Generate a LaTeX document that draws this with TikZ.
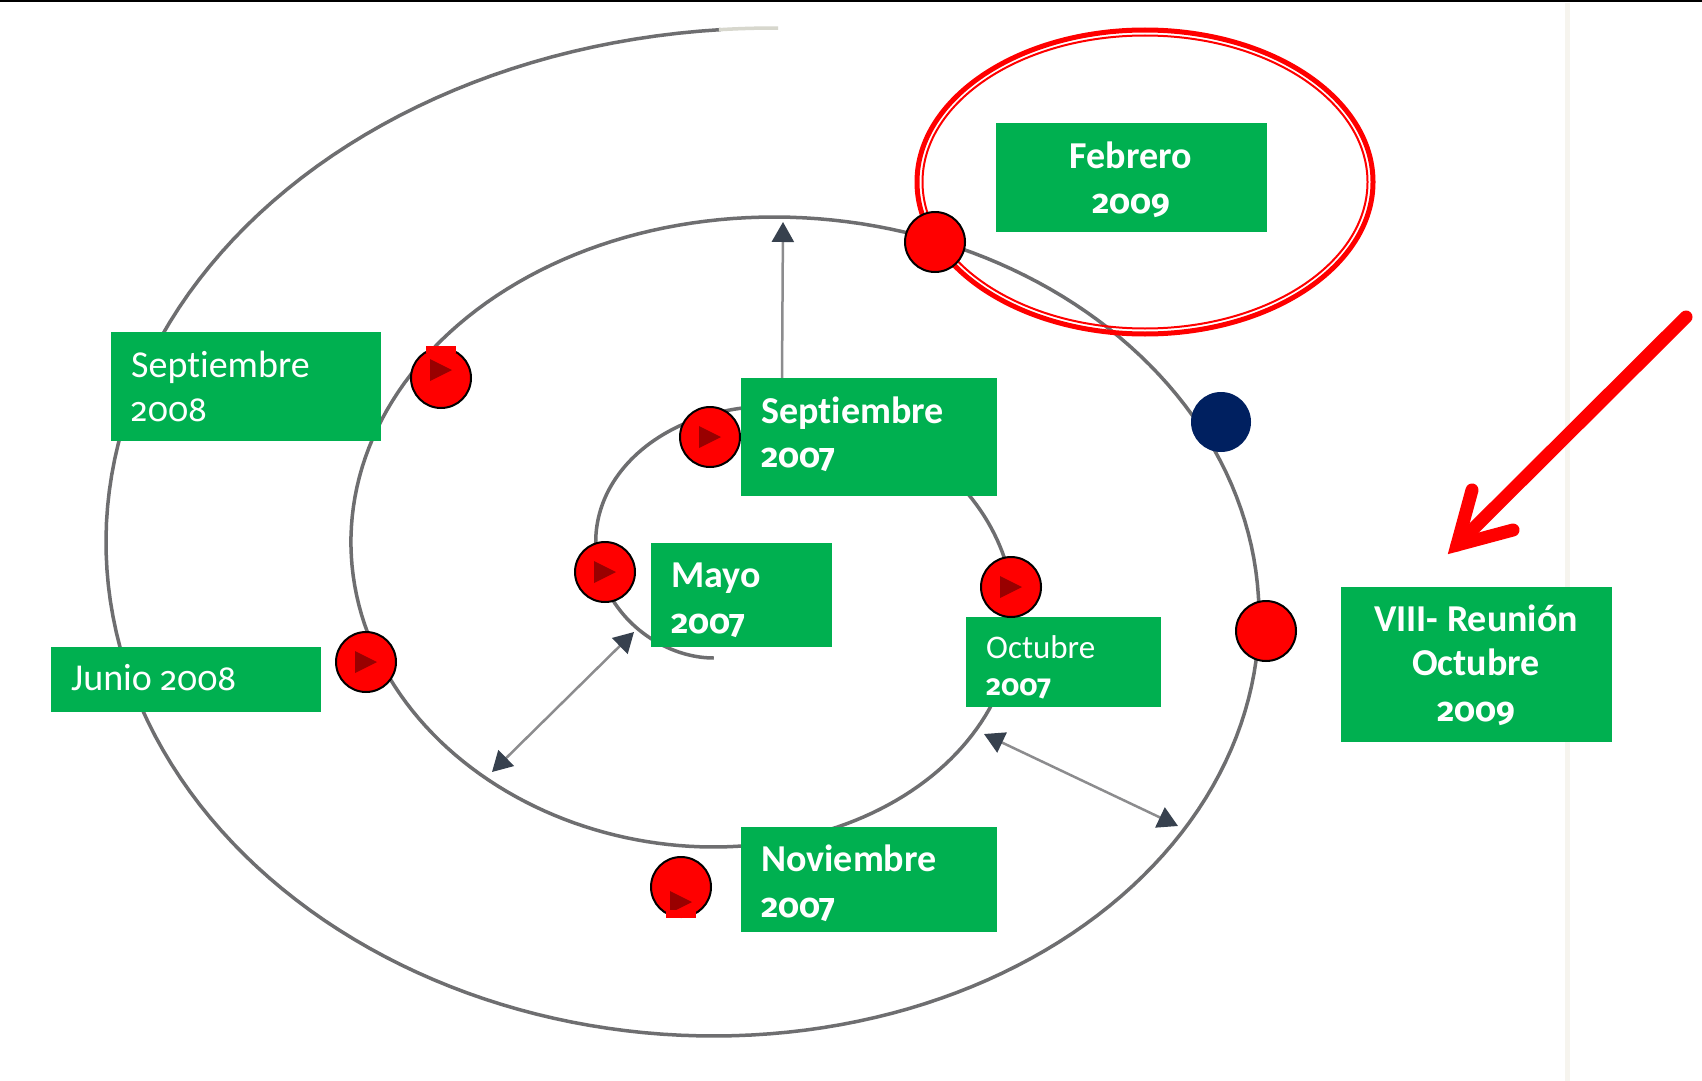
\documentclass[tikz,border=0pt]{standalone}
\usepackage{fontspec}
\setmainfont{Carlito}[Ligatures=CommonOff]
\newfontfamily\oldnum{Fira Sans}[Numbers=OldStyle, Scale=0.88]
\newcommand\od[1]{{\oldnum #1}}
\usetikzlibrary{arrows.meta}
\definecolor{boxgreen}{RGB}{0,176,80}
\definecolor{spiralgray}{RGB}{110,110,112}
\definecolor{spiralfade}{RGB}{215,215,205}
\definecolor{conngray}{RGB}{140,140,142}
\definecolor{arrowdark}{RGB}{55,65,78}
\definecolor{playred}{RGB}{153,0,0}
\definecolor{navydot}{RGB}{0,32,96}
\definecolor{paleedge}{RGB}{246,244,238}
\newcommand\PlayTri[2]{\fill[playred] (#1-11,#2-11) -- (#1-11,#2+11) -- (#1+11,#2) -- cycle;}
\tikzset{
  gbox/.style={fill=boxgreen, draw=none, anchor=north west, inner sep=0pt, outer sep=0pt},
  lblR/.style={text=white, inner sep=0pt, font=\fontsize{38}{45}\selectfont},
  lblB/.style={text=white, inner sep=0pt, font=\fontsize{38}{45}\selectfont\bfseries},
  lblS/.style={text=white, inner sep=0pt, font=\fontsize{33}{38}\selectfont},
  lblSB/.style={text=white, inner sep=0pt, font=\fontsize{33}{38}\selectfont\bfseries},
  rdot/.style={circle, fill=red, draw=black, line width=2pt, minimum size=60pt, inner sep=0pt},
  ndot/.style={circle, fill=navydot, draw=none, minimum size=60pt, inner sep=0pt},
  spiralline/.style={draw=spiralgray, line width=3.5pt},
  conn/.style={draw=conngray, line width=2.5pt},
  dtip/.tip={Triangle[width=22pt,length=20pt,color=arrowdark]},
  redarrow/.style={draw=red, line width=13pt, line cap=round},
}
\begin{document}
\begin{tikzpicture}[x=1pt,y=-1pt,
  declare function={
    spx(\t)=743.75+(147.75+38.99*(\t-pi))*cos(\t r)-30*sin(\t r);
    spy(\t)=579.25+(173.25+30.08*(\t-3*pi/2))*sin(\t r)+30*cos(\t r);}]
\useasboundingbox (0,0) rectangle (1702,1081);
\fill[white] (0,0) rectangle (1702,1081);
% page edges
\draw[line width=5pt, paleedge] (1567,3) -- (1567,1081);
\draw[line width=2pt, black] (0,1) -- (1702,1);
% spiral
\draw[spiralline] plot[variable=\t, domain=pi/2:17.21, samples=500] ({spx(\t)},{spy(\t)});
\draw[spiralline, draw=spiralfade] plot[variable=\t, domain=17.20:17.285, samples=10] ({spx(\t)},{spy(\t)});
% red double ellipse
\draw[red, line width=5pt] (1145,182) ellipse [x radius=228, y radius=152];
\draw[red, line width=2pt] (1145,182) ellipse [x radius=222.5, y radius=146.5];
% connector end points
\coordinate (vbase) at (782,378);
\coordinate (vtip) at (783,222);
\coordinate (m1) at (634,632);
\coordinate (m2) at (492,772);
\coordinate (o1) at (984,734);
\coordinate (o2) at (1178,826);
% connectors
\draw[conn, -dtip] (vbase) -- (vtip);
\draw[conn, dtip-dtip] (m2) -- (m1);
\draw[conn, dtip-dtip] (o1) -- (o2);
% green boxes
\node[gbox, minimum width=271pt, minimum height=109pt] (bfeb) at (996,123) {};
\node[gbox, minimum width=270pt, minimum height=109pt] (bsep08) at (111,332) {};
\node[gbox, minimum width=256pt, minimum height=118pt] (bsep07) at (741,378) {};
\node[gbox, minimum width=181pt, minimum height=104pt] (bmayo) at (651,543) {};
\node[gbox, minimum width=195pt, minimum height=90pt] (boct) at (966,617) {};
\node[gbox, minimum width=270pt, minimum height=65pt] (bjun) at (51,647) {};
\node[gbox, minimum width=256pt, minimum height=105pt] (bnov) at (741,827) {};
\node[gbox, minimum width=271pt, minimum height=155pt] (bviii) at (1341,587) {};
% labels
\node[lblB, anchor=base] (tfeb1) at (1131,168) {Febrero};
\node[lblB, anchor=base] (tfeb2) at (1131,213) {\od{2009}};
\node[lblR, anchor=base west] (tsep081) at (131,377) {Septiembre};
\node[lblR, anchor=base west] (tsep082) at (131,421) {\od{2008}};
\node[lblB, anchor=base west] (tsep071) at (761,423) {Septiembre};
\node[lblB, anchor=base west] (tsep072) at (761,467) {\od{2007}};
\node[lblB, anchor=base west] (tmayo1) at (671,587) {Mayo};
\node[lblB, anchor=base west] (tmayo2) at (671,633) {\od{2007}};
\node[lblS, anchor=base west] (toct1) at (986,658) {Octubre};
\node[lblSB, anchor=base west] (toct2) at (986,695) {\od{2007}};
\node[lblR, anchor=base west] (tjun) at (71,690) {Junio \od{2008}};
\node[lblB, anchor=base west] (tnov1) at (761,871) {Noviembre};
\node[lblB, anchor=base west] (tnov2) at (761,917) {\od{2007}};
\node[lblB, anchor=base] (tviii1) at (1476,631) {VIII- Reunión};
\node[lblB, anchor=base] (tviii2) at (1476,675) {Octubre};
\node[lblB, anchor=base] (tviii3) at (1476,721) {\od{2009}};
% dots
\node[rdot] (cfeb) at (935,242) {};
\node[ndot] (cnavy) at (1221,422) {};
\node[rdot] (cviii) at (1266,631) {};
\node[rdot] (csep08) at (441,378) {};
\node[rdot] (csep07) at (710,437) {};
\node[rdot] (cmayo) at (605,572) {};
\node[rdot] (cjun) at (366,662) {};
\node[rdot] (coct) at (1011,587) {};
\node[rdot] (cnov) at (681,887) {};
\PlayTri{441}{370}
\PlayTri{710}{437}
\PlayTri{605}{572}
\PlayTri{366}{662}
\PlayTri{1011}{587}
\PlayTri{681}{902}
\fill[red] (426,346) rectangle (456,353);
\fill[red] (666,910) rectangle (696,918);
% red pointer arrow
\coordinate (rastart) at (1686,317);
\coordinate (ratip) at (1457,545);
\coordinate (raw1) at (1472,490);
\coordinate (raw2) at (1513,530);
\draw[redarrow] (rastart) -- (ratip);
\draw[redarrow, line join=miter] (raw1) -- (ratip) -- (raw2);
\end{tikzpicture}
\end{document}
